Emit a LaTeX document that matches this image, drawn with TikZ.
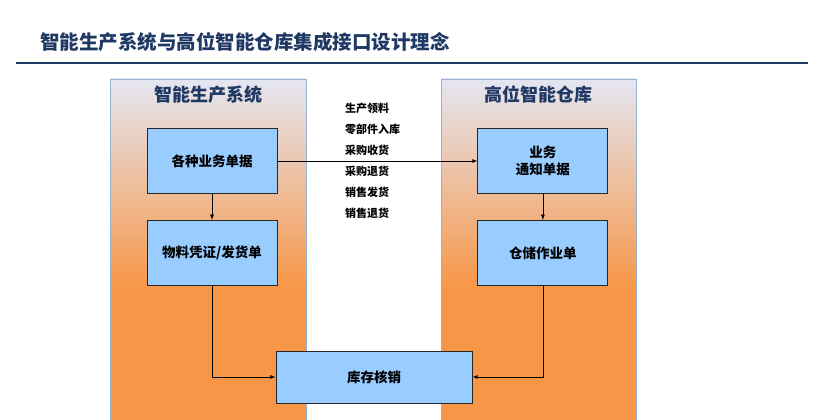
\documentclass[tikz,border=0pt]{standalone}
\usepackage{fontspec}
\setmainfont{Noto Sans CJK SC}
\usepackage{xcolor}
\usetikzlibrary{arrows,positioning}
\definecolor{navy}{RGB}{31,56,100}
\definecolor{paneltop}{RGB}{228,230,242}
\definecolor{panelorange}{RGB}{247,150,70}
\definecolor{panelline}{RGB}{149,179,215}
\definecolor{boxblue}{RGB}{153,204,255}
\tikzset{
  docbox/.style={rectangle,draw=black!85,fill=boxblue,line width=0.9pt,minimum width=130pt,minimum height=65pt,align=center,font=\fontsize{13.5}{17}\selectfont\bfseries},
  sinkbox/.style={docbox,minimum width=196pt,minimum height=52pt},
  paneltitle/.style={text=navy,font=\fontsize{18}{20}\selectfont\bfseries},
  doclabel/.style={anchor=west,inner sep=0pt,font=\fontsize{11}{12}\selectfont\bfseries}
}
\begin{document}
\begin{tikzpicture}[x=1pt,y=1pt,node distance=26pt,>=latex]
        \useasboundingbox (0,0) rectangle (830,420);
        % heading
        \node[anchor=west,inner sep=0pt,text=navy,font=\fontsize{19.5}{21}\selectfont\bfseries] (head) at (40,378) {智能生产系统与高位智能仓库集成接口设计理念};
        \draw[navy,line width=2pt] (16,357) -- (808,357);
        % two panels
        \shade[top color=paneltop,bottom color=panelorange] (110,130) rectangle (306,341);
        \fill[panelorange] (110,0) rectangle (306,130.5);
        \draw[panelline,line width=0.8pt] (110,0) -- (110,341) -- (306,341) -- (306,0);
        \shade[top color=paneltop,bottom color=panelorange] (441,130) rectangle (636,341);
        \fill[panelorange] (441,0) rectangle (636,130.5);
        \draw[panelline,line width=0.8pt] (441,0) -- (441,341) -- (636,341) -- (636,0);
        \node[paneltitle] (prod) at (208,325) {智能生产系统};
        \node[paneltitle] (wh) at (538,325) {高位智能仓库};
        % documents
        \node[docbox] (bills) at (212,259) {各种业务单据};
        \node[docbox,below=of bills] (voucher) {物料凭证/发货单};
        \node[docbox,right=200pt of bills] (notice) {业务\\通知单据};
        \node[docbox,below=of notice] (order) {仓储作业单};
        \node[sinkbox] (writeoff) at (374,43) {库存核销};
        \foreach \t [count=\i] in {生产领料,零部件入库,采购收货,采购退货,销售发货,销售退货}
          \node[doclabel] (kind\i) at (345,333-21*\i) {\t};
        \path[->,line width=0.8pt]
          (bills) edge (notice)
          (bills) edge (voucher)
          (notice) edge (order);
        \draw[->,line width=0.8pt] (voucher.south) |- (writeoff.west);
        \draw[->,line width=0.8pt] (order.south) |- (writeoff.east);
      \end{tikzpicture}
\end{document}
